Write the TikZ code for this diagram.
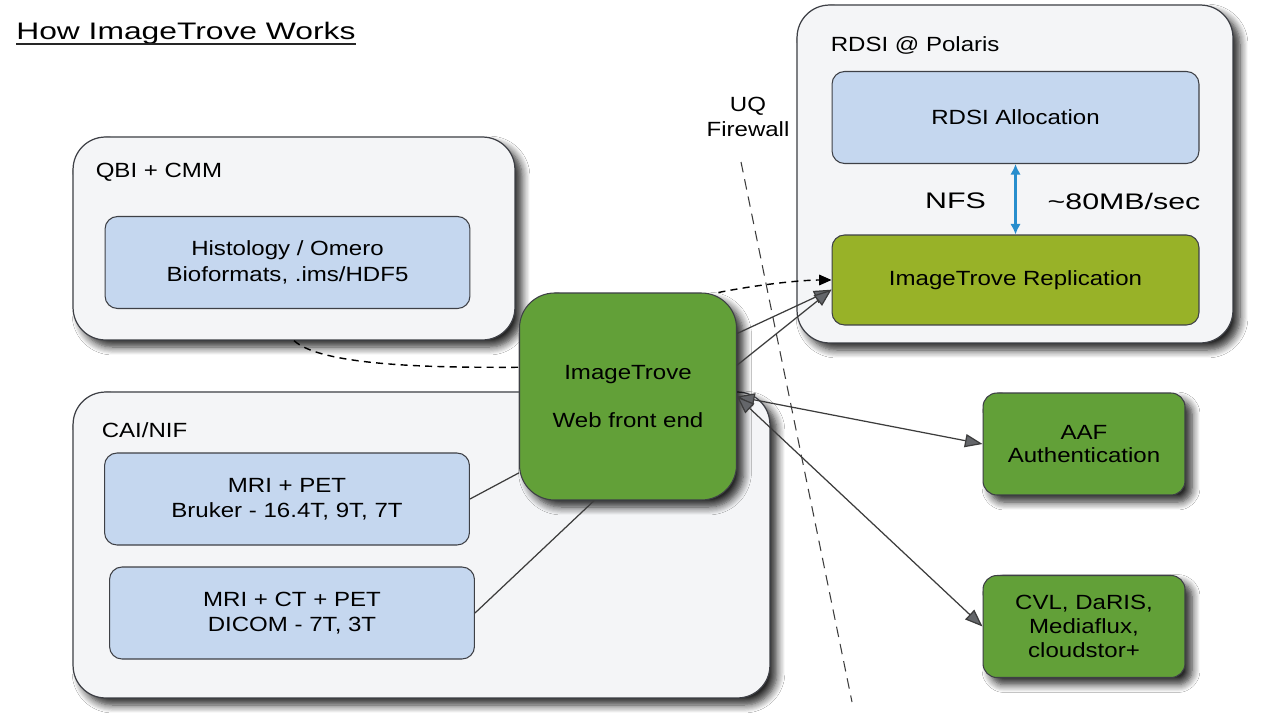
\documentclass[tikz,border=0pt]{standalone}
\usepackage{fontspec}
\setmainfont{Liberation Sans}[FakeStretch=1.17]
\newfontfamily\titlefont{Liberation Sans}[FakeStretch=1.33]
\newfontfamily\widefont{Liberation Sans}[FakeStretch=1.35]
\usetikzlibrary{positioning}
\usetikzlibrary{calc}
\usetikzlibrary{arrows.meta}
\usetikzlibrary{shadows.blur}
\definecolor{boxgrey}{RGB}{244,245,247}
\definecolor{edgegrey}{RGB}{62,64,70}
\definecolor{paleblue}{RGB}{197,215,239}
\definecolor{webgreen}{RGB}{98,160,56}
\definecolor{replgreen}{RGB}{152,178,40}
\definecolor{nfsblue}{RGB}{40,142,205}
\definecolor{linkgrey}{RGB}{60,60,60}
\definecolor{tipgrey}{RGB}{100,102,106}

\tikzset{
  boxshadow/.style={blur shadow={shadow xshift=4pt, shadow yshift=-4pt, shadow blur radius=4.5pt, shadow blur steps=8, shadow opacity=85}},
  group/.style={draw=edgegrey, fill=boxgrey, line width=0.7pt, rounded corners=0.65cm, boxshadow},
  grouplabel/.style={inner sep=0pt, font=\fontsize{11.7}{14}\selectfont},
  datastore/.style={draw=edgegrey, fill=paleblue, line width=0.6pt, rounded corners=0.25cm, minimum width=7.3cm, minimum height=1.84cm, align=center, font=\fontsize{11.7}{14.5}\selectfont},
  replbox/.style={datastore, fill=replgreen, minimum width=7.34cm, minimum height=1.8cm},
  webnode/.style={draw=edgegrey, fill=webgreen, line width=0.6pt, rounded corners=0.7cm, minimum width=4.34cm, minimum height=4.14cm, align=center, font=\fontsize{11.7}{14.5}\selectfont, boxshadow},
  service/.style={webnode, rounded corners=0.28cm, minimum width=4.04cm, minimum height=2.04cm, font=\fontsize{11.7}{13.5}\selectfont},
  titletext/.style={inner sep=0pt, font=\titlefont\fontsize{13.6}{16}\selectfont},
  widetext/.style={inner sep=0pt, font=\widefont\fontsize{12.8}{15}\selectfont},
  plainlink/.style={draw=linkgrey, line width=0.7pt},
  arrowlink/.style={plainlink, -{Triangle[length=10pt,width=7.5pt,fill=tipgrey]}},
  twoway/.style={plainlink, {Triangle[length=10pt,width=7.5pt,fill=tipgrey]}-{Triangle[length=10pt,width=7.5pt,fill=tipgrey]}},
  dashedlink/.style={draw=black, line width=0.8pt, dash pattern=on 4pt off 3pt},
  wall/.style={draw=linkgrey, line width=0.6pt, dash pattern=on 6pt off 4pt},
  nfsarrow/.style={draw=nfsblue, line width=1.2pt, {Latex[length=6pt,width=6pt]}-{Latex[length=6pt,width=6pt]}}
}

\begin{document}
\begin{tikzpicture}[x=0.02cm, y=-0.02cm]
        \useasboundingbox (0,0) rectangle (1280,720);
        \fill[white] (0,0) rectangle (1280,720);
        % title %
        \node[titletext, anchor=base west] (title) at (16,39) {How ImageTrove Works};
        \draw[line width=1pt, draw=black!85] (title.south west) -- (title.south east);
        % groups %
        \node[group, minimum width=8.84cm, minimum height=4.06cm] (qbi) at (294,238.5) {};
        \node[group, minimum width=13.94cm, minimum height=6.12cm] (cai) at (421.5,545) {};
        \node[group, minimum width=8.72cm, minimum height=6.76cm] (rdsi) at (1015,174) {};
        \node[grouplabel, below right=0.52cm and 0.46cm of qbi.north west] (qbilabel) {QBI + CMM};
        \node[grouplabel, below right=0.62cm and 0.58cm of cai.north west] (cailabel) {CAI/NIF};
        \node[grouplabel, below right=0.64cm and 0.68cm of rdsi.north west] (rdsilabel) {RDSI @ Polaris};
        % data stores %
        \node[datastore] (histo) at (287.5,262.5) {Histology / Omero\\Bioformats, .ims/HDF5};
        \node[datastore] (mripet) at (287,499) {MRI + PET\\Bruker - 16.4T, 9T, 7T};
        \node[datastore] (mrict) at (292,613) {MRI + CT + PET\\DICOM - 7T, 3T};
        \node[datastore, minimum width=7.34cm] (alloc) at (1015.5,117.5) {RDSI Allocation};
        \node[replbox] (repl) at (1015.5,280) {ImageTrove Replication};
        \node[widetext] (nfs) at (955.5,201) {NFS};
        \node[widetext] (rate) at (1124,201) {\textasciitilde80MB/sec};
        % web and services %
        \node[webnode] (web) at (628,396.5) {ImageTrove\\[13pt]Web front end};
        \node[service] (aaf) at (1084,444) {AAF\\Authentication};
        \node[service] (cvl) at (1084,626.5) {CVL, DaRIS,\\Mediaflux,\\cloudstor+};
        % firewall %
        \node[align=center, font=\fontsize{11.7}{14.5}\selectfont] (fw) at (748,117) {UQ\\Firewall};
        \coordinate (fwtop) at (741,162);
        \coordinate (fwbot) at (852,702);
        \draw[wall] (fwtop) -- (fwbot);
        % edges %
        \draw[nfsarrow] (alloc) -- (repl);
        \draw[plainlink] (mripet.east) -- (web.215);
        \draw[plainlink] (mrict.east) -- (web.252);
        \draw[dashedlink] (qbi.south) .. controls +(30,28) and +(-60,0) .. (web.165);
        \draw[dashedlink, -{Triangle[length=7pt,width=6pt]}] (web.49) .. controls +(40,-8) and +(-30,0) .. (repl.west);
        \draw[arrowlink] (web.30) -- (repl.183);
        \draw[arrowlink] (web.16) -- (repl.183);
        \draw[twoway] (web.east) -- (aaf.west);
        \draw[twoway] (web.east) -- (cvl.west);
      \end{tikzpicture}
\end{document}
